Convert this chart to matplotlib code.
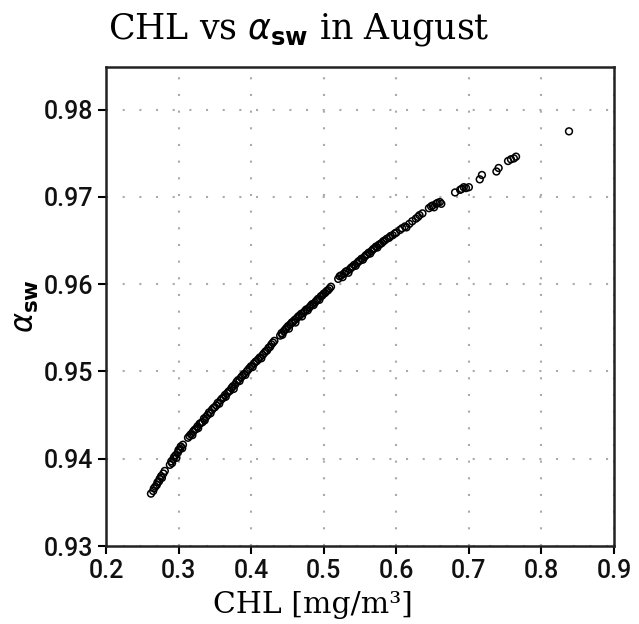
import matplotlib
matplotlib.use('Agg')
import matplotlib.pyplot as plt

# CHL [mg/m3] and alpha_sw values, in runs along the curve
chl_a = [0.262, 0.265, 0.266, 0.268, 0.270, 0.271, 0.273, 0.274, 0.276, 0.277, 0.279, 0.281]
alb_a = [0.9360, 0.9363, 0.9366, 0.9368, 0.9370, 0.9373, 0.9374, 0.9377, 0.9380, 0.9378, 0.9383, 0.9386]

chl_b = [0.288, 0.290, 0.291, 0.293, 0.294, 0.296, 0.297, 0.299, 0.300, 0.302, 0.303, 0.305, 0.306]
alb_b = [0.9393, 0.9397, 0.9395, 0.9400, 0.9402, 0.9404, 0.9401, 0.9407, 0.9410, 0.9411, 0.9414, 0.9412, 0.9416]

chl_c = [0.313, 0.315, 0.317, 0.319, 0.320, 0.322, 0.324, 0.326, 0.327, 0.329, 0.331,
         0.333, 0.335, 0.336, 0.338, 0.340, 0.342, 0.344, 0.346, 0.348, 0.350]
alb_c = [0.9424, 0.9426, 0.9428, 0.9427, 0.9431, 0.9433, 0.9434, 0.9437, 0.9435, 0.9440, 0.9441,
         0.9442, 0.9446, 0.9444, 0.9448, 0.9450, 0.9453, 0.9452, 0.9456, 0.9458, 0.9459]

chl_d = [0.352, 0.354, 0.356, 0.358, 0.360, 0.362, 0.364, 0.365, 0.367, 0.369, 0.371, 0.373, 0.375, 0.376,
         0.378, 0.380, 0.382, 0.384, 0.386, 0.388, 0.390, 0.392, 0.394, 0.396, 0.398, 0.400, 0.402, 0.404,
         0.406, 0.408, 0.410, 0.412, 0.414, 0.416, 0.418, 0.420, 0.422, 0.424, 0.426, 0.428, 0.430, 0.432]
alb_d = [0.9461, 0.9464, 0.9463, 0.9467, 0.9469, 0.9470, 0.9473, 0.9471, 0.9475, 0.9477, 0.9478, 0.9481, 0.9483, 0.9480,
         0.9485, 0.9488, 0.9490, 0.9489, 0.9493, 0.9495, 0.9497, 0.9496, 0.9500, 0.9502, 0.9504, 0.9506, 0.9505, 0.9509,
         0.9511, 0.9512, 0.9514, 0.9516, 0.9515, 0.9519, 0.9521, 0.9523, 0.9524, 0.9527, 0.9528, 0.9531, 0.9533, 0.9535]

chl_e = [0.440, 0.442, 0.443, 0.445, 0.447, 0.449, 0.451, 0.452, 0.454, 0.456, 0.458, 0.460, 0.461,
         0.463, 0.465, 0.467, 0.469, 0.470, 0.472, 0.474, 0.476, 0.478, 0.480, 0.482, 0.484, 0.486,
         0.488, 0.490, 0.492, 0.494, 0.496, 0.498, 0.500, 0.502, 0.504, 0.506, 0.508, 0.510]
alb_e = [0.9541, 0.9544, 0.9542, 0.9546, 0.9548, 0.9550, 0.9552, 0.9549, 0.9554, 0.9556, 0.9557, 0.9559, 0.9556,
         0.9561, 0.9563, 0.9564, 0.9566, 0.9563, 0.9567, 0.9569, 0.9571, 0.9570, 0.9573, 0.9575, 0.9577, 0.9576,
         0.9579, 0.9581, 0.9583, 0.9582, 0.9586, 0.9587, 0.9589, 0.9590, 0.9592, 0.9593, 0.9595, 0.9597]

chl_f = [0.520, 0.522, 0.524, 0.526, 0.528, 0.530, 0.532, 0.534, 0.536, 0.538, 0.540, 0.542, 0.544,
         0.546, 0.548, 0.550, 0.552, 0.554, 0.556, 0.558, 0.560, 0.562, 0.564, 0.566, 0.568, 0.570,
         0.572, 0.574, 0.576, 0.578, 0.580, 0.582, 0.584, 0.587, 0.590, 0.592, 0.595, 0.598, 0.600]
alb_f = [0.9606, 0.9609, 0.9610, 0.9608, 0.9612, 0.9614, 0.9615, 0.9613, 0.9617, 0.9619, 0.9620, 0.9622, 0.9621,
         0.9624, 0.9626, 0.9627, 0.9629, 0.9628, 0.9631, 0.9633, 0.9634, 0.9636, 0.9635, 0.9638, 0.9640, 0.9641,
         0.9643, 0.9642, 0.9645, 0.9646, 0.9647, 0.9649, 0.9650, 0.9652, 0.9653, 0.9655, 0.9656, 0.9658, 0.9659]

chl_g = [0.605, 0.608, 0.612, 0.614, 0.618, 0.622, 0.627, 0.630, 0.632, 0.636,
         0.645, 0.648, 0.650, 0.652, 0.655, 0.657, 0.660, 0.662]
alb_g = [0.9662, 0.9664, 0.9666, 0.9665, 0.9669, 0.9672, 0.9675, 0.9677, 0.9679, 0.9681,
         0.9687, 0.9689, 0.9690, 0.9688, 0.9692, 0.9693, 0.9694, 0.9692]

chl_h = [0.681, 0.688, 0.690, 0.693, 0.696, 0.700, 0.715, 0.718, 0.738, 0.741, 0.754, 0.758, 0.762, 0.765, 0.838]
alb_h = [0.9705, 0.9708, 0.9709, 0.9711, 0.9710, 0.9711, 0.9720, 0.9725, 0.9729, 0.9733, 0.9741, 0.9743, 0.9744, 0.9746, 0.9775]

chl = chl_a + chl_b + chl_c + chl_d + chl_e + chl_f + chl_g + chl_h
alb = alb_a + alb_b + alb_c + alb_d + alb_e + alb_f + alb_g + alb_h

xticks = [0.2, 0.3, 0.4, 0.5, 0.6, 0.7, 0.8, 0.9]
yticks = [0.93, 0.94, 0.95, 0.96, 0.97, 0.98]

fig = plt.figure(figsize=(6.39, 6.24), dpi=100)
ax = fig.add_axes([106 / 639, 1 - 546 / 624, 508 / 639, 479 / 624])

ax.scatter(chl, alb, s=24, facecolors='none', edgecolors='black', linewidths=1.1, zorder=3)

ax.set_xlim(0.2, 0.9)
ax.set_ylim(0.93, 0.98487)
ax.set_xticks(xticks)
ax.set_yticks(yticks)
ax.set_xticklabels(['%.1f' % v for v in xticks])
ax.set_yticklabels(['%.2f' % v for v in yticks])
ax.tick_params(direction='out', length=6, width=1.5, labelsize=18, pad=3)
for lab in ax.get_xticklabels() + ax.get_yticklabels():
    lab.set_family('Roboto')
    lab.set_weight('medium')
    lab.set_color('#111111')

ax.grid(True, color='#aaaaaa', linestyle=(0, (1, 7)), linewidth=1.5)
for s in ax.spines.values():
    s.set_linewidth(1.8)
    s.set_color('#222222')

fig.text(108 / 639, 1 - 38 / 624, r'CHL vs $\alpha_{\mathbf{sw}}$ in August',
         family='DejaVu Serif', fontsize=25, ha='left', va='baseline')
fig.text(213 / 639, 1 - 613 / 624, 'CHL [mg/m³]',
         family='DejaVu Serif', fontsize=21.5, ha='left', va='baseline')
ax.set_ylabel(r'$\alpha_{\mathbf{sw}}$', fontsize=22, labelpad=2)

plt.savefig('out.png', dpi=100)
